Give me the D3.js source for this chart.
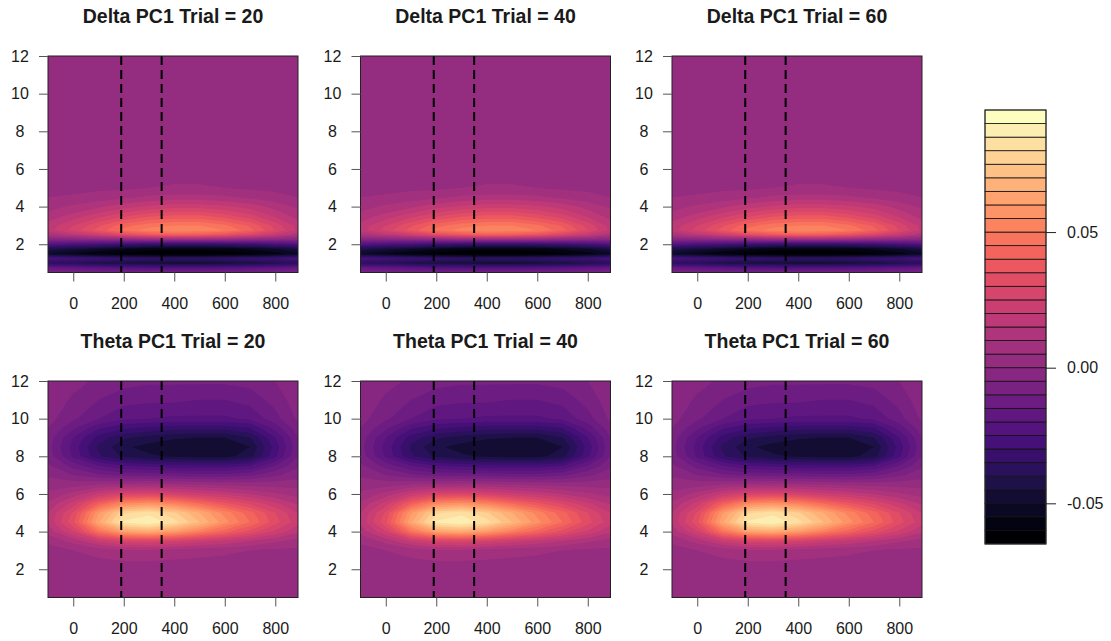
<!DOCTYPE html>
<html>
<head>
<meta charset="utf-8">
<title>Delta / Theta PC1 contours</title>
<script src="https://d3js.org/d3.v7.min.js"></script>
<style>
  body { margin: 0; background: #fff; }
  text { font-family: "Liberation Sans", Arial, sans-serif; fill: #1a1a1a; }
</style>
</head>
<body>
<script>

// time samples (columns of the grids) and frequency rows
var times = [-100, 0, 100, 200, 300, 400, 500, 600, 700, 800, 890];
var deltaFreqs = [0.5, 0.75, 1, 1.25, 1.5, 1.75, 2, 2.25, 2.5, 2.75, 3, 3.5, 4, 4.5, 5, 6, 8, 10, 12];
var thetaFreqs = [0.5, 2, 3, 3.5, 4, 4.5, 5, 5.5, 6, 6.5, 7, 7.5, 8, 8.5, 9, 9.5, 10, 11, 12];

// PC1 loadings, one row per frequency (low to high)
var deltaValues = [
  [-0.007, -0.008, -0.009, -0.010, -0.010, -0.010, -0.010, -0.010, -0.009, -0.008, -0.007],
  [-0.016, -0.018, -0.020, -0.022, -0.023, -0.023, -0.023, -0.022, -0.021, -0.019, -0.017],
  [-0.036, -0.039, -0.042, -0.045, -0.046, -0.047, -0.047, -0.046, -0.044, -0.041, -0.038],
  [-0.026, -0.028, -0.030, -0.032, -0.034, -0.035, -0.035, -0.034, -0.032, -0.030, -0.027],
  [-0.050, -0.055, -0.059, -0.062, -0.064, -0.064, -0.064, -0.063, -0.061, -0.057, -0.052],
  [-0.042, -0.046, -0.050, -0.054, -0.057, -0.058, -0.058, -0.057, -0.054, -0.050, -0.044],
  [-0.022, -0.024, -0.027, -0.030, -0.032, -0.033, -0.033, -0.032, -0.030, -0.027, -0.023],
  [-0.004, -0.003, -0.002, 0.000, 0.002, 0.003, 0.003, 0.002, 0.000, -0.002, -0.003],
  [0.011, 0.016, 0.023, 0.031, 0.037, 0.040, 0.039, 0.035, 0.028, 0.020, 0.012],
  [0.018, 0.027, 0.037, 0.047, 0.052, 0.054, 0.053, 0.050, 0.042, 0.030, 0.019],
  [0.017, 0.025, 0.034, 0.043, 0.048, 0.050, 0.050, 0.046, 0.039, 0.028, 0.018],
  [0.012, 0.017, 0.023, 0.029, 0.034, 0.036, 0.036, 0.032, 0.027, 0.019, 0.013],
  [0.008, 0.011, 0.014, 0.018, 0.021, 0.023, 0.023, 0.021, 0.018, 0.013, 0.009],
  [0.005, 0.006, 0.007, 0.009, 0.011, 0.012, 0.012, 0.011, 0.009, 0.007, 0.005],
  [0.003, 0.003, 0.004, 0.004, 0.005, 0.0055, 0.0055, 0.005, 0.004, 0.0035, 0.003],
  [0.002, 0.002, 0.003, 0.003, 0.003, 0.003, 0.003, 0.003, 0.003, 0.002, 0.002],
  [0.002, 0.002, 0.002, 0.002, 0.002, 0.002, 0.002, 0.002, 0.002, 0.002, 0.002],
  [0.002, 0.002, 0.002, 0.002, 0.002, 0.002, 0.002, 0.002, 0.002, 0.002, 0.002],
  [0.002, 0.002, 0.002, 0.002, 0.002, 0.002, 0.002, 0.002, 0.002, 0.002, 0.002]
];

var thetaValues = [
  [0.002, 0.002, 0.002, 0.002, 0.002, 0.002, 0.002, 0.002, 0.002, 0.002, 0.002],
  [0.002, 0.002, 0.002, 0.002, 0.002, 0.002, 0.002, 0.002, 0.002, 0.002, 0.002],
  [0.003, 0.005, 0.007, 0.009, 0.009, 0.008, 0.007, 0.006, 0.005, 0.004, 0.004],
  [0.006, 0.012, 0.021, 0.027, 0.028, 0.026, 0.022, 0.019, 0.015, 0.011, 0.008],
  [0.012, 0.025, 0.047, 0.062, 0.065, 0.060, 0.051, 0.042, 0.033, 0.024, 0.016],
  [0.016, 0.034, 0.064, 0.086, 0.090, 0.082, 0.070, 0.057, 0.045, 0.032, 0.022],
  [0.015, 0.031, 0.059, 0.079, 0.083, 0.076, 0.065, 0.053, 0.042, 0.030, 0.020],
  [0.011, 0.022, 0.040, 0.054, 0.057, 0.052, 0.044, 0.036, 0.029, 0.021, 0.014],
  [0.006, 0.012, 0.021, 0.027, 0.028, 0.026, 0.022, 0.019, 0.015, 0.011, 0.008],
  [0.003, 0.003, 0.005, 0.006, 0.007, 0.006, 0.005, 0.004, 0.003, 0.003, 0.003],
  [-0.001, -0.005, -0.009, -0.011, -0.012, -0.012, -0.013, -0.013, -0.011, -0.006, -0.002],
  [-0.004, -0.012, -0.020, -0.025, -0.026, -0.028, -0.028, -0.028, -0.025, -0.015, -0.006],
  [-0.007, -0.021, -0.034, -0.041, -0.044, -0.046, -0.047, -0.047, -0.042, -0.026, -0.010],
  [-0.008, -0.022, -0.036, -0.044, -0.047, -0.049, -0.050, -0.050, -0.045, -0.028, -0.011],
  [-0.007, -0.020, -0.032, -0.039, -0.042, -0.044, -0.045, -0.045, -0.040, -0.025, -0.010],
  [-0.005, -0.014, -0.024, -0.029, -0.031, -0.033, -0.033, -0.033, -0.030, -0.018, -0.007],
  [-0.003, -0.009, -0.015, -0.019, -0.020, -0.021, -0.021, -0.021, -0.019, -0.012, -0.004],
  [-0.001, -0.006, -0.010, -0.013, -0.014, -0.014, -0.015, -0.015, -0.013, -0.008, -0.002],
  [0.000, -0.003, -0.006, -0.008, -0.009, -0.009, -0.009, -0.009, -0.008, -0.005, -0.001]
];

var trials = [20, 40, 60];
var markers = [190, 350];          // dashed vertical lines
var xTicks = [0, 200, 400, 600, 800];
var yTicks = [2, 4, 6, 8, 10, 12];
var barTicks = [-0.05, 0.00, 0.05];
var zMin = -0.065, zStep = 0.005, nBands = 32;

// contour breaks and magma colours
var levels = d3.range(nBands + 1).map(function(i) { return +(zMin + i * zStep).toFixed(3); });
var colors = d3.range(nBands).map(function(i) { return d3.interpolateMagma(i / (nBands - 1)); });

var W = 1111, H = 641;
var svg = d3.select("body").append("svg")
  .attr("width", W)
  .attr("height", H);

var panelLeft = [48, 360.5, 672];
var panelTop = [56, 381];
var pw = 250, ph = 216.5;

var rows = [
  {name: "Delta", freqs: deltaFreqs, values: deltaValues},
  {name: "Theta", freqs: thetaFreqs, values: thetaValues}
];

var x = d3.scaleLinear().domain([-100, 890]).range([0, pw]);
var y = d3.scaleLinear().domain([0.5, 12]).range([ph, 0]);

rows.forEach(function(row, r) {
  var n = times.length, m = row.freqs.length;
  var flat = [].concat.apply([], row.values);
  var contours = d3.contours()
    .size([n, m])
    .thresholds(levels.slice(0, -1))(flat);

  // grid index -> time / frequency (rows are not evenly spaced)
  var ix = d3.scaleLinear().domain(d3.range(n)).range(times).clamp(true);
  var iy = d3.scaleLinear().domain(d3.range(m)).range(row.freqs).clamp(true);
  var proj = d3.geoTransform({
    point: function(px, py) {
      this.stream.point(x(ix(px - 0.5)), y(iy(py - 0.5)));
    }
  });
  var path = d3.geoPath(proj);

  trials.forEach(function(trial, c) {
    var g = svg.append("g")
      .attr("transform", "translate(" + panelLeft[c] + "," + panelTop[r] + ")");

    var clipId = "clip" + r + c;
    g.append("clipPath").attr("id", clipId)
      .append("rect").attr("width", pw).attr("height", ph);

    g.append("g")
      .attr("clip-path", "url(#" + clipId + ")")
      .selectAll("path")
      .data(contours)
      .enter()
      .append("path")
      .attr("d", path)
      .attr("fill", function(d, i) { return colors[i]; });

    // dashed markers
    g.selectAll("line.marker")
      .data(markers)
      .enter()
      .append("line")
      .attr("class", "marker")
      .attr("x1", function(d) { return x(d); })
      .attr("x2", function(d) { return x(d); })
      .attr("y1", 0)
      .attr("y2", ph)
      .attr("stroke", "#000")
      .attr("stroke-width", 2)
      .attr("stroke-dasharray", "9,5");

    g.append("rect")
      .attr("width", pw)
      .attr("height", ph)
      .attr("fill", "none")
      .attr("stroke", "#222")
      .attr("stroke-width", 1);

    var xa = g.append("g")
      .attr("transform", "translate(0," + ph + ")")
      .call(d3.axisBottom(x).tickValues(xTicks).tickSize(9).tickPadding(16).tickFormat(d3.format("d")));
    var ya = g.append("g")
      .call(d3.axisLeft(y).tickValues(yTicks).tickSize(9).tickPadding(19).tickFormat(d3.format("d")));

    [xa, ya].forEach(function(a) {
      a.select(".domain").remove();
      a.selectAll(".tick line").attr("stroke", "#555");
      a.selectAll("text")
        .style("font-size", "16px")
        .style("font-family", "'Liberation Sans', Arial, sans-serif")
        .attr("fill", "#1a1a1a");
    });
    ya.selectAll("text").attr("text-anchor", "middle").attr("x", -28);

    g.append("text")
      .attr("x", pw / 2)
      .attr("y", -33)
      .attr("text-anchor", "middle")
      .style("font-size", "19.5px")
      .style("font-weight", "bold")
      .text(row.name + " PC1 Trial = " + trial);
  });
});

// colour key
var barX = 985, barW = 61;
var cy = d3.scaleLinear().domain([levels[0], levels[nBands]]).range([544, 110]);

svg.append("g")
  .selectAll("rect")
  .data(colors)
  .enter()
  .append("rect")
  .attr("x", barX)
  .attr("width", barW)
  .attr("y", function(d, i) { return cy(levels[i + 1]); })
  .attr("height", function(d, i) { return cy(levels[i]) - cy(levels[i + 1]); })
  .attr("fill", function(d) { return d; })
  .attr("stroke", "#111")
  .attr("stroke-width", 0.8);

svg.append("rect")
  .attr("x", barX)
  .attr("y", 110)
  .attr("width", barW)
  .attr("height", 434)
  .attr("fill", "none")
  .attr("stroke", "#333")
  .attr("stroke-width", 1);

var ca = svg.append("g")
  .attr("transform", "translate(" + (barX + barW) + ",0)")
  .call(d3.axisRight(cy).tickValues(barTicks).tickSize(10).tickPadding(11)
    .tickFormat(function(d) { return d.toFixed(2); }));
ca.select(".domain").remove();
ca.selectAll(".tick line").attr("stroke", "#222");
ca.selectAll("text")
  .style("font-size", "16px")
  .style("font-family", "'Liberation Sans', Arial, sans-serif")
  .attr("fill", "#1a1a1a");

</script>
</body>
</html>
